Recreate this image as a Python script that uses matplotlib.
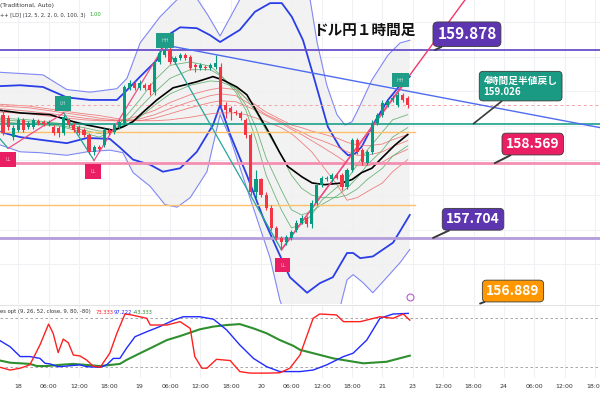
import numpy as np
import matplotlib.pyplot as plt

# ---- hourly candles (USD/JPY) ----
opens = [159.13, 159.09, 158.87, 158.95, 159.07, 158.99, 158.99, 159.06, 159.05, 159.02,
         158.99, 158.98, 158.92, 159.07, 159.01, 158.99, 158.95, 158.90, 158.70, 158.76,
         158.78, 158.95, 158.93, 158.99, 159.03, 159.44, 159.50, 159.44, 159.47, 159.47,
         159.39, 159.74, 159.82, 159.88, 159.74, 159.79, 159.82, 159.80, 159.70, 159.67,
         159.68, 159.67, 159.68, 159.68, 159.24, 159.21, 159.16, 159.15, 159.07, 158.90,
         158.23, 158.38, 158.20, 158.05, 157.82, 157.70, 157.66, 157.70, 157.80, 157.88,
         157.94, 157.86, 158.11, 158.32, 158.39, 158.38, 158.43, 158.43, 158.29, 158.49,
         158.84, 158.72, 158.57, 158.70, 159.03, 159.13, 159.24, 159.30, 159.24, 159.36,
         159.32]
highs = [159.18, 159.13, 159.01, 159.10, 159.09, 159.06, 159.09, 159.08, 159.07, 159.07,
         159.01, 159.00, 159.13, 159.09, 159.03, 159.01, 158.98, 158.92, 158.78, 158.78,
         158.98, 158.98, 159.03, 159.07, 159.47, 159.53, 159.53, 159.53, 159.50, 159.50,
         159.76, 159.88, 159.94, 159.94, 159.81, 159.84, 159.84, 159.82, 159.73, 159.73,
         159.70, 159.73, 159.82, 159.73, 159.28, 159.23, 159.18, 159.17, 159.09, 158.92,
         158.49, 158.40, 158.23, 158.09, 157.84, 157.73, 157.74, 157.80, 157.91, 157.97,
         157.96, 158.14, 158.34, 158.42, 158.42, 158.46, 158.46, 158.46, 158.51, 158.86,
         158.86, 158.75, 158.72, 159.07, 159.15, 159.30, 159.30, 159.36, 159.39, 159.38,
         159.35]
lows = [158.90, 158.95, 158.84, 158.93, 158.93, 158.96, 158.96, 159.01, 159.00, 159.00,
        158.90, 158.87, 158.90, 158.99, 158.93, 158.90, 158.87, 158.68, 158.66, 158.71,
        158.76, 158.90, 158.91, 158.96, 159.01, 159.42, 159.42, 159.42, 159.42, 159.36,
        159.36, 159.72, 159.80, 159.72, 159.72, 159.76, 159.76, 159.65, 159.62, 159.65,
        159.65, 159.65, 159.66, 159.21, 159.09, 159.07, 159.13, 159.07, 158.86, 158.20,
        158.17, 158.18, 158.03, 157.80, 157.68, 157.57, 157.62, 157.68, 157.77, 157.86,
        157.83, 157.82, 158.09, 158.29, 158.36, 158.35, 158.38, 158.26, 158.27, 158.47,
        158.68, 158.55, 158.55, 158.68, 159.01, 159.10, 159.22, 159.28, 159.22, 159.28,
        159.21]
closes = [158.92, 158.99, 158.98, 159.07, 158.95, 159.03, 159.07, 159.03, 159.02, 159.05,
          158.92, 158.92, 159.10, 159.01, 158.95, 158.92, 158.90, 158.70, 158.76, 158.73,
          158.95, 158.92, 159.01, 159.05, 159.45, 159.50, 159.44, 159.50, 159.44, 159.42,
          159.74, 159.84, 159.88, 159.74, 159.79, 159.82, 159.79, 159.67, 159.68, 159.70,
          159.67, 159.70, 159.73, 159.24, 159.18, 159.16, 159.15, 159.09, 158.90, 158.24,
          158.38, 158.20, 158.05, 157.82, 157.70, 157.66, 157.72, 157.77, 157.88, 157.94,
          157.86, 158.11, 158.32, 158.40, 158.40, 158.43, 158.40, 158.29, 158.49, 158.84,
          158.70, 158.58, 158.70, 159.03, 159.13, 159.27, 159.28, 159.32, 159.36, 159.30,
          159.24]

# ---- time axis ----
tick_pos = [3, 9, 15, 21, 27, 33, 39, 45, 51, 57, 63, 69, 75, 81, 87, 93, 99, 105, 111, 117]
tick_lab = ['18', '06:00', '12:00', '18:00', '19', '06:00', '12:00', '18:00', '20', '06:00',
            '12:00', '18:00', '21', '23', '12:00', '18:00', '24', '06:00', '12:00', '18:00']

# ---- envelope bands ----
up_in_x = [-0.6, 3.4, 7.9, 12.6, 17.2, 22.5, 24.1, 27.1, 30.4, 32.6, 35.0, 38.3, 40.9, 42.9, 46.8,
           49.8, 52.8, 55.1, 57.1, 59.3, 61.3, 64.2, 66.6, 68.2, 69.6, 70.9, 73.5, 76.1, 78.9, 80.4]
up_in_y = [159.46, 159.47, 159.45, 159.33, 159.30, 159.30, 159.39, 159.57, 159.76, 160.05, 160.14,
           160.13, 160.05, 159.97, 160.11, 160.32, 160.42, 160.42, 160.26, 159.99, 159.59, 158.99,
           158.75, 158.66, 158.68, 158.76, 159.05, 159.30, 159.50, 159.57]
up_out_x = [-0.6, 7.9, 12.6, 17.2, 22.5, 24.5, 27.1, 31.0, 34.4, 37.9, 40.5, 42.9, 45.5, 47.8,
            58.7, 60.7, 62.1, 64.0, 66.0, 67.6, 69.0, 70.6, 72.9, 76.1, 78.5, 80.4]
up_out_y = [159.62, 159.59, 159.42, 159.39, 159.43, 159.55, 159.96, 160.26, 160.46, 160.51, 160.28,
            160.04, 160.32, 160.57, 160.69, 160.46, 159.96, 159.47, 159.13, 159.01, 159.05, 159.24,
            159.53, 159.82, 159.96, 159.99]
lo_in_x = [-0.6, 3.4, 7.3, 12.6, 16.6, 21.1, 23.1, 25.7, 29.1, 31.6, 35.0, 38.3, 41.5, 42.9, 44.9,
           48.2, 51.4, 54.2, 56.7, 60.1, 62.6, 65.2, 68.0, 69.2, 70.6, 73.1, 77.1, 80.4]
lo_in_y = [158.93, 158.87, 158.84, 158.80, 158.86, 158.85, 158.75, 158.61, 158.55, 158.47, 158.51,
           158.70, 159.01, 159.24, 158.90, 158.43, 157.94, 157.57, 157.25, 157.07, 157.18, 157.25,
           157.53, 157.53, 157.47, 157.49, 157.65, 157.97]
lo_out_x = [-0.6, 3.4, 7.3, 12.6, 16.6, 21.1, 23.7, 25.7, 29.1, 32.0, 34.4, 37.0, 40.3, 42.9, 44.9,
            48.8, 52.8, 54.7, 56.7, 65.6, 67.0, 68.0, 69.2, 71.1, 73.1, 75.9, 78.5, 80.4]
lo_out_y = [158.78, 158.70, 158.69, 158.66, 158.70, 158.72, 158.69, 158.46, 158.30, 158.09, 158.06,
            158.17, 158.47, 159.13, 158.86, 158.17, 157.47, 156.99, 156.64, 156.64, 156.99, 157.22,
            157.28, 157.19, 157.07, 157.25, 157.42, 157.57]

# ---- moving averages ----
mid_x = [-0.6, 3.4, 9.3, 13.8, 16.6, 19.2, 21.7, 23.7, 25.7, 27.7, 30.4, 33.6, 38.3, 41.5, 43.5,
         46.2, 48.2, 50.2, 52.8, 54.7, 56.3, 59.1, 61.1, 63.6, 67.0, 69.0, 70.9, 72.9, 74.9, 77.5, 80.0]
mid_y = [159.18, 159.15, 159.13, 159.05, 159.01, 158.98, 158.95, 158.99, 159.05, 159.16, 159.30,
         159.44, 159.51, 159.57, 159.53, 159.45, 159.36, 159.16, 158.90, 158.69, 158.53, 158.41,
         158.34, 158.32, 158.34, 158.38, 158.46, 158.51, 158.63, 158.78, 158.90]

rib_x = [-0.6, 5, 11, 16, 19, 22, 24, 27, 30, 33, 37, 41, 43, 46, 48, 50, 52, 55, 57, 59,
         61, 63, 66, 68, 70, 72, 75, 77, 80]
green_fast = [159.05, 159.02, 159.00, 158.92, 158.87, 158.95, 159.09, 159.30, 159.53, 159.70, 159.74,
              159.69, 159.59, 159.39, 159.18, 158.84, 158.43, 158.03, 157.82, 157.86, 157.97, 158.14,
              158.29, 158.38, 158.55, 158.72, 158.93, 159.07, 159.13]
green_mid = [159.07, 159.05, 159.01, 158.95, 158.91, 158.94, 159.02, 159.21, 159.39, 159.55, 159.65,
             159.65, 159.58, 159.42, 159.24, 158.98, 158.63, 158.26, 158.03, 157.97, 158.01, 158.09,
             158.19, 158.28, 158.40, 158.55, 158.72, 158.87, 158.98]
green_slow = [159.09, 159.07, 159.03, 158.98, 158.94, 158.94, 158.99, 159.10, 159.24, 159.37, 159.47,
              159.52, 159.51, 159.44, 159.32, 159.16, 158.95, 158.66, 158.43, 158.28, 158.20, 158.17,
              158.17, 158.20, 158.27, 158.38, 158.51, 158.65, 158.77]
red_1 = [159.16, 159.14, 159.10, 159.07, 159.06, 159.06, 159.07, 159.12, 159.18, 159.27, 159.36,
         159.42, 159.44, 159.42, 159.32, 159.24, 159.16, 159.07, 159.01, 158.98, 158.94, 158.91,
         158.86, 158.81, 158.78, 158.77, 158.79, 158.84, 158.90]
red_2 = [159.20, 159.17, 159.13, 159.09, 159.07, 159.06, 159.06, 159.08, 159.13, 159.20, 159.28,
         159.35, 159.37, 159.35, 159.28, 159.21, 159.13, 159.05, 158.98, 158.93, 158.87, 158.83,
         158.76, 158.70, 158.66, 158.66, 158.70, 158.76, 158.83]
red_3 = [159.23, 159.21, 159.16, 159.12, 159.09, 159.07, 159.06, 159.06, 159.09, 159.14, 159.21,
         159.27, 159.29, 159.28, 159.23, 159.18, 159.12, 159.03, 158.96, 158.90, 158.83, 158.76,
         158.65, 158.57, 158.54, 158.54, 158.58, 158.65, 158.73]
red_4 = [159.25, 159.23, 159.18, 159.14, 159.12, 159.09, 159.07, 159.06, 159.06, 159.07, 159.10,
         159.14, 159.15, 159.15, 159.13, 159.09, 159.05, 158.98, 158.91, 158.81, 158.70, 158.55,
         158.32, 158.14, 158.17, 158.24, 158.34, 158.47, 158.61]

# ---- zigzag swing points ----
zz_x = [-0.6, 1, 12, 18, 32, 55, 79.5]
zz_y = [158.85, 158.74, 159.15, 158.60, 159.94, 157.57, 159.50]
swing_lab = ['LL', 'LH', 'LL', 'HH', 'LL', 'HH']
swing_x = [1, 11.9, 17.8, 32, 55.3, 78.5]
swing_y = [158.61, 159.26, 158.47, 159.99, 157.39, 159.53]

# ---- trend lines ----
down_line_x = [31.6, 118]
down_line_y = [159.94, 158.98]
up_line_x = [55.1, 91.3]
up_line_y = [157.57, 160.456]

# ---- key levels ----
lvl_top = 159.878
lvl_half = 159.026
lvl_pink = 158.569
lvl_low = 157.704
lvl_orange = 156.889
pivot_lines = [158.93, 158.09]
last_price = 159.24

# ---- oscillator ----
osc_red_x = [-0.6, 1.4, 3.4, 5.3, 7.3, 9.0, 9.9, 10.9, 11.9, 12.9, 13.9, 15.2, 16.5, 17.8, 19.2,
             21.1, 22.5, 24.1, 25.4, 28.4, 29.1, 32.4, 35.0, 37.0, 37.9, 39.3, 40.3, 42.2, 44.9,
             46.8, 48.8, 52.1, 54.7, 56.7, 58.7, 60.0, 61.3, 62.6, 65.9, 67.3, 70.6, 74.5, 77.1,
             79.1, 80.4]
osc_red = [-81, -90, -84, -73, -8, 60, 30, -33, 11, -1, -41, -44, -57, -77, -81, -35, 30, 93, 90,
           79, 57, 57, 68, 46, -46, -84, -84, -55, -59, -95, -100, -100, -99, -84, -41, 19, 79, 93,
           90, 68, 68, 84, 79, 93, 73]
osc_blue_x = [-0.6, 1.4, 3.4, 5.3, 7.3, 8.3, 9.3, 10.9, 12.6, 15.2, 16.5, 19.2, 20.5, 21.8, 23.1,
              24.4, 26.1, 28.4, 31.0, 33.7, 35.6, 38.9, 41.6, 44.2, 46.8, 49.5, 52.1, 54.7, 58.7,
              61.3, 64.0, 67.3, 69.2, 71.9, 74.5, 77.1, 80.1]
osc_blue = [6, -14, -46, -46, -52, -68, -70, -79, -77, -73, -79, -81, -73, -52, -52, -19, 19, 35,
            52, 73, 84, 84, 76, 41, -8, -52, -79, -95, -95, -90, -73, -46, -35, 8, 79, 93, 95]
osc_green_x = [-0.6, 1.4, 5.3, 6.7, 8.6, 11.3, 13.9, 19.2, 23.1, 24.4, 27.1, 29.7, 32.4, 35.0,
               38.9, 41.6, 44.2, 46.8, 49.5, 52.1, 54.7, 57.4, 58.7, 61.3, 65.3, 71.2, 75.8, 80.4]
osc_green = [-59, -66, -70, -77, -77, -73, -70, -77, -70, -57, -35, -14, 8, 21, 43, 52, 57, 60,
             46, 30, 8, -11, -24, -35, -52, -68, -63, -43]

JP = ['Noto Sans CJK JP', 'DejaVu Sans']
GREEN = '#089981'
RED = '#f23645'

fig = plt.figure(figsize=(6, 3.96), dpi=100)
ax = fig.add_axes([0, 1 - 304 / 396, 1, 304 / 396])
ax2 = fig.add_axes([0, 1 - 378 / 396, 1, 73 / 396])

XMIN, XMAX = -0.6, 118
for a in (ax, ax2):
    a.set_xlim(XMIN, XMAX)
    for s in a.spines.values():
        s.set_visible(False)
    for t in tick_pos:
        a.axvline(t, color='#f0f1f4', lw=0.8, zorder=0)
ax.set_ylim(156.94, 160.456)
ax2.set_ylim(-116, 122.4)
ax.set_xticks([])
ax.set_yticks([])
for p in [157.4, 157.8, 158.2, 158.6, 159.0, 159.4, 159.8, 160.2]:
    ax.axhline(p, color='#f0f1f4', lw=0.8, zorder=0)

# envelope fill + bands
poly_x = up_out_x + lo_out_x[::-1]
poly_y = up_out_y + lo_out_y[::-1]
ax.fill(poly_x, poly_y, color='#f0f0f0', alpha=0.85, lw=0, zorder=1)
ax.plot(up_out_x, up_out_y, color='#8088f5', lw=0.8, zorder=3)
ax.plot(lo_out_x, lo_out_y, color='#8088f5', lw=0.8, zorder=3)
ax.plot(up_in_x, up_in_y, color='#2a3ee8', lw=1.3, zorder=3)
ax.plot(lo_in_x, lo_in_y, color='#2a3ee8', lw=1.3, zorder=3)

# ribbons
for ys in (red_1, red_2, red_3, red_4):
    ax.plot(rib_x, ys, color='#f06b6b', lw=0.6, alpha=0.85, zorder=4)
for ys in (green_fast, green_mid, green_slow):
    ax.plot(rib_x, ys, color='#5fae6a', lw=0.6, alpha=0.9, zorder=4)
ax.plot(mid_x, mid_y, color='black', lw=1.2, zorder=5)

# levels
ax.axhline(lvl_top, color='#6a4fc8', lw=1.3, zorder=6)
ax.axhline(lvl_half, color='#089981', lw=1.1, zorder=6)
ax.axhline(lvl_pink, color='#f48fb1', lw=2, zorder=6)
ax.axhline(lvl_low, color='#b39ddb', lw=2, zorder=6)
ax.axhline(last_price, color='#f6a3a3', lw=0.7, ls=(0, (3, 3)), zorder=6)
for p in pivot_lines:
    ax.plot([XMIN, 81.5], [p, p], color='#ffbf6b', lw=1, zorder=6)

# trend lines
ax.plot(down_line_x, down_line_y, color='#4f6cf0', lw=1, zorder=6)
ax.plot(up_line_x, up_line_y, color='#f2386a', lw=1, zorder=6)
for i in range(len(zz_x) - 1):
    col = '#26a69a' if zz_y[i + 1] < zz_y[i] else '#ef4f86'
    ax.plot(zz_x[i:i + 2], zz_y[i:i + 2], color=col, lw=0.9, zorder=6)

# candles
for i in range(len(closes)):
    o, h, l, c = opens[i], highs[i], lows[i], closes[i]
    col = GREEN if c >= o else RED
    ax.vlines(i, l, h, color=col, lw=0.8, zorder=7)
    body = max(abs(c - o), 0.008)
    ax.bar(i, body, bottom=min(o, c), width=0.62, color=col, lw=0, zorder=8)

# swing labels
for lab, x, y in zip(swing_lab, swing_x, swing_y):
    col = '#e91e63' if lab == 'LL' else '#1f9d86'
    ax.text(x, y, lab, fontsize=3.5, color='#ffffffaa', ha='center', va='center', zorder=9,
            bbox=dict(boxstyle='square,pad=1.0', fc=col, ec='none'))

# callouts
def callout(text, xy, xyt, fc, fs):
    ax.annotate(text, xy=xy, xytext=xyt, ha='center', va='center', fontsize=fs,
                fontweight='bold', color='white', family=JP, zorder=10,
                bbox=dict(boxstyle='round,pad=0.28,rounding_size=0.3', fc=fc, ec='#3a3a3a', lw=0.6),
                arrowprops=dict(arrowstyle='-', color='#3a3a3a', lw=1.4, shrinkA=0, shrinkB=0))

callout('159.878', (85.4, lvl_top), (91.7, 160.06), '#5e35b1', 11)
callout('158.569', (97.2, lvl_pink), (104.7, 158.79), '#e91e63', 10)
callout('157.704', (85.0, lvl_low), (92.9, 157.92), '#5e35b1', 10)
callout('156.889', (94.3, 156.945), (100.8, 157.09), '#ff9800', 10)
ax.annotate('4時間足半値戻し\n159.026', xy=(93.0, lvl_half), xytext=(95.0, 159.46), ha='left',
            va='center', fontsize=7, fontweight='bold', color='white', family=JP, zorder=10,
            linespacing=1.1,
            bbox=dict(boxstyle='round,pad=0.45,rounding_size=0.4', fc='#1a9a82', ec='#3a3a3a', lw=0.6),
            arrowprops=dict(arrowstyle='-', color='#3a3a3a', lw=1.2, shrinkA=0, shrinkB=0))

ax.text(61.3, 160.11, 'ドル円１時間足', fontsize=10.5, fontweight='bold', family=JP,
        color='#111111', ha='left', va='center', zorder=10)
ax.plot([80.4], [157.02], marker='o', ms=5, mfc='white', mec='#b55ad0', mew=0.8, zorder=10)

fig.text(0.0, 1 - 5 / 396, '(Traditional, Auto)', fontsize=4.3, color='#333333', va='center')
fig.text(0.0, 1 - 15 / 396, '++ [LD] (12, 5, 2, 2, 0, 0, 100, 3)', fontsize=3.7,
         color='#333333', va='center')
fig.text(89 / 600, 1 - 15 / 396, '1.00', fontsize=3.8, color='#22aa22', va='center')

# oscillator panel
ax2.axhline(80, color='#9a9a9a', lw=0.6, ls=(0, (3, 3)))
ax2.axhline(-80, color='#9a9a9a', lw=0.6, ls=(0, (3, 3)))
ax2.plot(osc_green_x, osc_green, color='#2f8f2f', lw=1.5)
ax2.plot(osc_blue_x, osc_blue, color='#1f2bff', lw=1.0)
ax2.plot(osc_red_x, osc_red, color='#ff2020', lw=1.0)
ax2.spines['top'].set_visible(True)
ax2.spines['top'].set_color('#e4e4e4')
ax2.set_yticks([])
ax2.set_xticks(tick_pos)
ax2.set_xticklabels(tick_lab, fontsize=4.5, color='#333333')
ax2.tick_params(axis='x', length=0, pad=4)

yh = 1 - 312 / 396
fig.text(0.0, yh, 'es opt (9, 26, 52, close, 9, 80, -80)', fontsize=3.8, color='#333333', va='center')
fig.text(96 / 600, yh, '73.333', fontsize=3.8, color='#ff2020', va='center')
fig.text(114 / 600, yh, '97.222', fontsize=3.8, color='#1f2bff', va='center')
fig.text(133 / 600, yh, '-43.333', fontsize=3.8, color='#2f8f2f', va='center')

fig.savefig('out.png', dpi=100, facecolor='white')
